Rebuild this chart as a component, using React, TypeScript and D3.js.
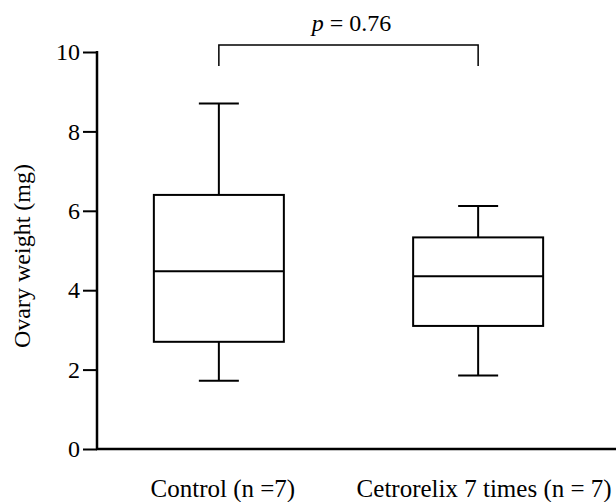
import React, { useEffect, useRef } from "react";
import * as d3 from "d3";

const groups = ["Control (n =7)", "Cetrorelix 7 times (n = 7)"];
const maxs = [8.7, 6.12];
const q3s = [6.4, 5.33];
const medians = [4.48, 4.35];
const q1s = [2.7, 3.1];
const mins = [1.72, 1.85];
const yTicks = [0, 2, 4, 6, 8, 10];
const pText = "0.76";

export default function App() {
  const ref = useRef<SVGSVGElement>(null);

  useEffect(() => {
    const svg = d3.select(ref.current);
    svg.selectAll("*").remove();
    const font = "'Liberation Serif', 'Times New Roman', serif";

    const y = d3.scaleLinear().domain([0, 10]).range([449, 52]);
    const x = d3.scalePoint<string>().domain(groups).range([97, 600]).padding(0.47);
    const boxW = 130;
    const capW = 40;

    // y axis
    const yAxis = svg.append("g").attr("transform", "translate(97,0)")
      .call(d3.axisLeft(y).tickValues(yTicks).tickSize(14).tickPadding(3).tickSizeOuter(0));
    yAxis.select(".domain").remove();
    yAxis.selectAll(".tick line").attr("stroke", "#000").attr("stroke-width", 2);
    yAxis.selectAll(".tick text").attr("fill", "#000")
      .style("font-family", font).style("font-size", "24px");
    svg.append("line").attr("x1", 97).attr("x2", 97).attr("y1", y(10) - 1).attr("y2", y(0) + 1)
      .attr("stroke", "#000").attr("stroke-width", 2.5);
    svg.append("line").attr("x1", 96).attr("x2", 616).attr("y1", y(0)).attr("y2", y(0))
      .attr("stroke", "#000").attr("stroke-width", 2.5);

    // boxes
    const g = svg.append("g").attr("stroke", "#000").attr("stroke-width", 2).attr("fill", "none");
    groups.forEach((name, i) => {
      const cx = x(name)!;
      g.append("line").attr("x1", cx).attr("x2", cx).attr("y1", y(maxs[i])).attr("y2", y(q3s[i]));
      g.append("line").attr("x1", cx).attr("x2", cx).attr("y1", y(q1s[i])).attr("y2", y(mins[i]));
      g.append("line").attr("x1", cx - capW / 2).attr("x2", cx + capW / 2).attr("y1", y(maxs[i])).attr("y2", y(maxs[i]));
      g.append("line").attr("x1", cx - capW / 2).attr("x2", cx + capW / 2).attr("y1", y(mins[i])).attr("y2", y(mins[i]));
      g.append("rect").attr("x", cx - boxW / 2).attr("width", boxW)
        .attr("y", y(q3s[i])).attr("height", y(q1s[i]) - y(q3s[i]));
      g.append("line").attr("x1", cx - boxW / 2).attr("x2", cx + boxW / 2).attr("y1", y(medians[i])).attr("y2", y(medians[i]));

      svg.append("text").attr("x", cx + 4 + i * 2).attr("y", 497).attr("text-anchor", "middle")
        .style("font-family", font).style("font-size", "25px").text(name);
    });

    // significance bracket
    const x0 = x(groups[0])!, x1 = x(groups[1])!;
    svg.append("path")
      .attr("d", `M${x0},66 V45 H${x1} V66`)
      .attr("fill", "none").attr("stroke", "#000").attr("stroke-width", 1.5);
    const pt = svg.append("text").attr("x", (x0 + x1) / 2 + 3).attr("y", 31).attr("text-anchor", "middle")
      .style("font-family", font).style("font-size", "24px");
    pt.append("tspan").attr("font-style", "italic").text("p");
    pt.append("tspan").text(" = " + pText);

    // y label
    svg.append("text").attr("transform", "translate(30,256) rotate(-90)").attr("text-anchor", "middle")
      .style("font-family", font).style("font-size", "24px").text("Ovary weight (mg)");
  }, []);

  return (
    <svg ref={ref} width={616} height={502}
      style={{ position: "absolute", left: 0, top: 0, background: "#fff" }} />
  );
}
